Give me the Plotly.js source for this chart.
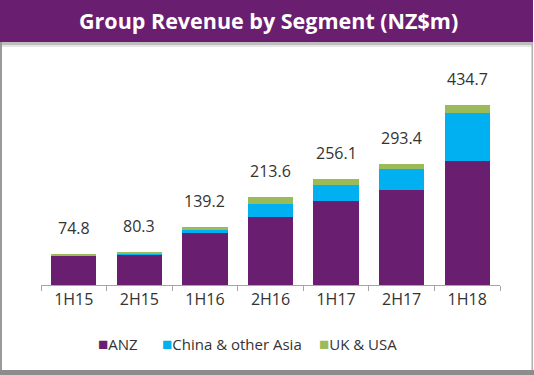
<!DOCTYPE html>
<html>
<head>
<meta charset="utf-8">
<script src="https://cdn.plot.ly/plotly-3.0.1.min.js"></script>
<style>
html,body{margin:0;padding:0;background:#fff;}
#chart{width:534px;height:375px;}
</style>
</head>
<body>
<div id="chart"></div>
<script>
const categories = ["1H15","2H15","1H16","2H16","1H17","2H17","1H18"];
const anz = [70.3, 72.5, 125, 165, 203, 229, 300];
const china = [0.5, 2.5, 8, 30, 38, 51.5, 116];
const ukusa = [4.0, 5.3, 6.2, 18.6, 15.1, 12.9, 18.7];
const totals = [74.8, 80.3, 139.2, 213.6, 256.1, 293.4, 434.7];
const totalLabels = ["74.8","80.3","139.2","213.6","256.1","293.4","434.7"];
const seriesNames = ["ANZ","China & other Asia","UK & USA"];

const colors = ["#6A1E6F","#00B0F0","#9BBB59"];
const font = "'Open Sans', 'Noto Sans', sans-serif";

const traces = [anz, china, ukusa].map((vals, i) => ({
  type: "bar",
  x: categories,
  y: vals,
  name: seriesNames[i],
  marker: {color: colors[i]},
  hoverinfo: "none"
}));

// plot area pixels: x 41..500, y 95..285
const L = 41, R = 500, T = 95, B = 285;
const W = R - L, H = B - T;
const px = p => (p - L) / W;
const py = p => (B - p) / H;

const annotations = categories.map((c, i) => ({
  x: c, y: totals[i], xref: "x", yref: "y",
  text: totalLabels[i], showarrow: false,
  yanchor: "bottom", yshift: 13,
  font: {family: font, size: 16, color: "#333333"}
}));

// custom legend
const legendX = [96, 160, 317];
seriesNames.forEach((n, i) => {
  annotations.push({
    xref: "paper", yref: "paper",
    x: px(legendX[i]), y: py(343),
    xanchor: "left", yanchor: "middle",
    showarrow: false,
    text: '<span style="color:' + colors[i] + ';font-size:17px">■</span>' + n,
    font: {family: font, size: 15, color: "#333333"}
  });
});

const shapes = [
  {type:"rect", xref:"paper", yref:"paper", x0:px(0), x1:px(533), y0:py(47), y1:py(42), fillcolor:"#e6e6e6", line:{width:0}, layer:"below"},
  {type:"rect", xref:"paper", yref:"paper", x0:px(0), x1:px(533), y0:py(45), y1:py(42), fillcolor:"#bdbdbd", line:{width:0}, layer:"below"},
  {type:"rect", xref:"paper", yref:"paper", x0:px(0), x1:px(533), y0:py(42), y1:py(0), fillcolor:"#6A1E6F", line:{width:0}, layer:"below"},
  {type:"rect", xref:"paper", yref:"paper", x0:px(0), x1:px(2), y0:py(372), y1:py(42), fillcolor:"#9a9a9a", line:{width:0}, layer:"below"},
  {type:"rect", xref:"paper", yref:"paper", x0:px(531.5), x1:px(533), y0:py(372), y1:py(42), fillcolor:"#b0b0b0", line:{width:0}, layer:"below"},
  {type:"rect", xref:"paper", yref:"paper", x0:px(0), x1:px(534), y0:py(375), y1:py(370), fillcolor:"#8c8c8c", line:{width:0}, layer:"below"}
];

const layout = {
  width: 534, height: 375,
  margin: {l: L, r: 534 - R, t: T, b: 375 - B, pad: 0},
  paper_bgcolor: "#ffffff",
  plot_bgcolor: "rgba(0,0,0,0)",
  barmode: "stack",
  bargap: 0.31,
  showlegend: false,
  title: {
    text: "<b>Group Revenue by Segment (NZ$m)</b>",
    font: {family: font, size: 21.5, color: "#ffffff"},
    x: 0.503, xref: "container", xanchor: "center",
    y: 1 - 21 / 375, yref: "container", yanchor: "middle"
  },
  xaxis: {
    type: "category",
    showline: true, linecolor: "#a6a6a6", linewidth: 1,
    ticks: "outside", tickson: "boundaries", ticklen: 5, tickcolor: "#a6a6a6",
    tickfont: {family: font, size: 16, color: "#333333"},
    showgrid: false, zeroline: false, fixedrange: true
  },
  yaxis: {
    range: [0, 459], visible: false, showgrid: false, zeroline: false, fixedrange: true
  },
  annotations: annotations,
  shapes: shapes
};

Plotly.newPlot("chart", traces, layout, {displayModeBar: false, staticPlot: true});
</script>
</body>
</html>
